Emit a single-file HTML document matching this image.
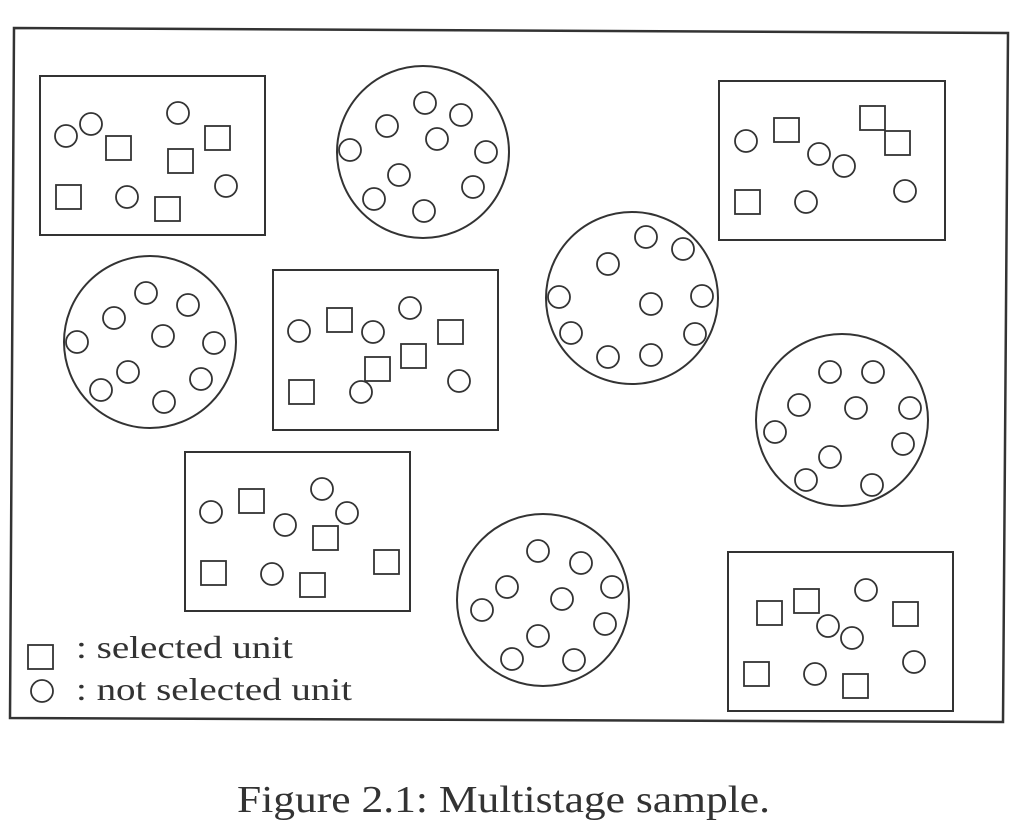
<!DOCTYPE html>
<html><head><style>
body{margin:0;background:#fff;width:1023px;height:828px;overflow:hidden}
svg{display:block}
text{font-family:"Liberation Serif",serif;fill:#333}
</style></head><body>
<svg width="1023" height="828" viewBox="0 0 1023 828" xmlns="http://www.w3.org/2000/svg">
<g fill="none" stroke="#333" stroke-width="2">
<polygon points="14,28 1008,33 1003,722 10,718" stroke-width="2.5"/>
<rect x="40" y="76" width="225" height="159"/>
<g stroke-width="1.8">
<circle cx="66" cy="136" r="11"/><circle cx="91" cy="124" r="11"/><circle cx="178" cy="113" r="11"/><circle cx="127" cy="197" r="11"/><circle cx="226" cy="186" r="11"/>
<rect x="106" y="136" width="25" height="24"/><rect x="168" y="149" width="25" height="24"/><rect x="205" y="126" width="25" height="24"/><rect x="56" y="185" width="25" height="24"/><rect x="155" y="197" width="25" height="24"/>
</g>
<circle cx="423" cy="152" r="86"/>
<g stroke-width="1.8">
<circle cx="350" cy="150" r="11"/><circle cx="387" cy="126" r="11"/><circle cx="425" cy="103" r="11"/><circle cx="461" cy="115" r="11"/><circle cx="437" cy="139" r="11"/><circle cx="486" cy="152" r="11"/><circle cx="399" cy="175" r="11"/><circle cx="473" cy="187" r="11"/><circle cx="374" cy="199" r="11"/><circle cx="424" cy="211" r="11"/>
</g>
<rect x="719" y="81" width="226" height="159"/>
<g stroke-width="1.8">
<circle cx="746" cy="141" r="11"/><circle cx="819" cy="154" r="11"/><circle cx="844" cy="166" r="11"/><circle cx="806" cy="202" r="11"/><circle cx="905" cy="191" r="11"/>
<rect x="774" y="118" width="25" height="24"/><rect x="860" y="106" width="25" height="24"/><rect x="885" y="131" width="25" height="24"/><rect x="735" y="190" width="25" height="24"/>
</g>
<circle cx="632" cy="298" r="86"/>
<g stroke-width="1.8">
<circle cx="608" cy="264" r="11"/><circle cx="646" cy="237" r="11"/><circle cx="683" cy="249" r="11"/><circle cx="559" cy="297" r="11"/><circle cx="651" cy="304" r="11"/><circle cx="702" cy="296" r="11"/><circle cx="571" cy="333" r="11"/><circle cx="695" cy="334" r="11"/><circle cx="608" cy="357" r="11"/><circle cx="651" cy="355" r="11"/>
</g>
<circle cx="150" cy="342" r="86"/>
<g stroke-width="1.8">
<circle cx="77" cy="342" r="11"/><circle cx="114" cy="318" r="11"/><circle cx="146" cy="293" r="11"/><circle cx="188" cy="305" r="11"/><circle cx="163" cy="336" r="11"/><circle cx="214" cy="343" r="11"/><circle cx="128" cy="372" r="11"/><circle cx="201" cy="379" r="11"/><circle cx="101" cy="390" r="11"/><circle cx="164" cy="402" r="11"/>
</g>
<rect x="273" y="270" width="225" height="160"/>
<g stroke-width="1.8">
<circle cx="299" cy="331" r="11"/><circle cx="373" cy="332" r="11"/><circle cx="410" cy="308" r="11"/><circle cx="361" cy="392" r="11"/><circle cx="459" cy="381" r="11"/>
<rect x="327" y="308" width="25" height="24"/><rect x="438" y="320" width="25" height="24"/><rect x="401" y="344" width="25" height="24"/><rect x="365" y="357" width="25" height="24"/><rect x="289" y="380" width="25" height="24"/>
</g>
<circle cx="842" cy="420" r="86"/>
<g stroke-width="1.8">
<circle cx="830" cy="372" r="11"/><circle cx="873" cy="372" r="11"/><circle cx="799" cy="405" r="11"/><circle cx="856" cy="408" r="11"/><circle cx="910" cy="408" r="11"/><circle cx="775" cy="432" r="11"/><circle cx="903" cy="444" r="11"/><circle cx="830" cy="457" r="11"/><circle cx="806" cy="480" r="11"/><circle cx="872" cy="485" r="11"/>
</g>
<rect x="185" y="452" width="225" height="159"/>
<g stroke-width="1.8">
<circle cx="211" cy="512" r="11"/><circle cx="322" cy="489" r="11"/><circle cx="285" cy="525" r="11"/><circle cx="347" cy="513" r="11"/><circle cx="272" cy="574" r="11"/>
<rect x="239" y="489" width="25" height="24"/><rect x="313" y="526" width="25" height="24"/><rect x="201" y="561" width="25" height="24"/><rect x="300" y="573" width="25" height="24"/><rect x="374" y="550" width="25" height="24"/>
</g>
<circle cx="543" cy="600" r="86"/>
<g stroke-width="1.8">
<circle cx="538" cy="551" r="11"/><circle cx="581" cy="563" r="11"/><circle cx="507" cy="587" r="11"/><circle cx="562" cy="599" r="11"/><circle cx="612" cy="587" r="11"/><circle cx="482" cy="610" r="11"/><circle cx="605" cy="624" r="11"/><circle cx="538" cy="636" r="11"/><circle cx="512" cy="659" r="11"/><circle cx="574" cy="660" r="11"/>
</g>
<rect x="728" y="552" width="225" height="159"/>
<g stroke-width="1.8">
<circle cx="866" cy="590" r="11"/><circle cx="828" cy="626" r="11"/><circle cx="852" cy="638" r="11"/><circle cx="815" cy="674" r="11"/><circle cx="914" cy="662" r="11"/>
<rect x="757" y="601" width="25" height="24"/><rect x="794" y="589" width="25" height="24"/><rect x="893" y="602" width="25" height="24"/><rect x="744" y="662" width="25" height="24"/><rect x="843" y="674" width="25" height="24"/>
</g>
<rect x="28" y="645" width="25" height="24" stroke-width="1.8"/>
<circle cx="42" cy="691" r="11" stroke-width="1.8"/>
</g>
<text x="76" y="658" font-size="32" textLength="217" lengthAdjust="spacingAndGlyphs">: selected unit</text>
<text x="76" y="700" font-size="32" textLength="276" lengthAdjust="spacingAndGlyphs">: not selected unit</text>
<text x="237" y="812" font-size="38" textLength="533" lengthAdjust="spacingAndGlyphs" fill="#444">Figure 2.1: Multistage sample.</text>
</svg>
</body></html>
